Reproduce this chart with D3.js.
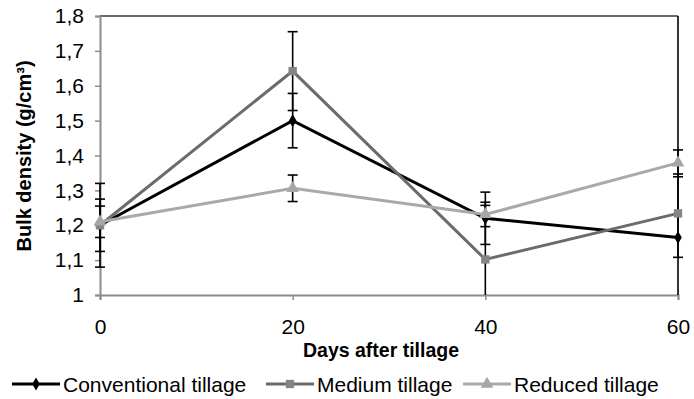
<!DOCTYPE html>
<html>
<head>
<meta charset="utf-8">
<script src="https://cdn.jsdelivr.net/npm/d3@7"></script>
<style>
  body { margin: 0; background: #fff; }
  text { font-family: "Liberation Sans", Arial, sans-serif; }
</style>
</head>
<body>
<div id="chart"></div>
<script>
// data
var days = [0, 20, 40, 60];
var conventional = [1.20, 1.50, 1.22, 1.165];
var medium = [1.20, 1.642, 1.102, 1.234];
var reduced = [1.21, 1.306, 1.231, 1.379];

// error bar sizes (plus / minus)
var convPlus = [0.12, 0.078, 0.075, 0.70];
var convMinus = [0.12, 0.078, 0.075, 0.70];
var medPlus = [0.075, 0.113, 0.155, 0.113];
var medMinus = [0.075, 0.113, 0.16, 0.126];
var redPlus = [0.045, 0.038, 0.035, 0.037];
var redMinus = [0.045, 0.038, 0.035, 0.04];

var yTicks = [1, 1.1, 1.2, 1.3, 1.4, 1.5, 1.6, 1.7, 1.8];
var xTicks = [0, 20, 40, 60];

var seriesNames = ["Conventional tillage", "Medium tillage", "Reduced tillage"];

var W = 694, H = 399;
var margin = {top: 16, right: 16, bottom: 104, left: 100};

var svg = d3.select("#chart").append("svg")
    .attr("width", W)
    .attr("height", H);

var x = d3.scaleLinear().domain([0, 60]).range([margin.left, W - margin.right]);
var y = d3.scaleLinear().domain([1, 1.8]).range([H - margin.bottom, margin.top]);

var series = [
    {name: seriesNames[0], values: conventional, plus: convPlus, minus: convMinus,
     line: "#000000", fill: "#000000", symbol: d3.symbolDiamond, size: 50},
    {name: seriesNames[1], values: medium, plus: medPlus, minus: medMinus,
     line: "#6b6b6b", fill: "#858585", symbol: d3.symbolSquare, size: 70},
    {name: seriesNames[2], values: reduced, plus: redPlus, minus: redMinus,
     line: "#a9a9a9", fill: "#a6a6a6", symbol: d3.symbolTriangle, size: 70}
];

// top border
svg.append("line")
    .attr("x1", x(0)).attr("x2", x(60))
    .attr("y1", y(1.8)).attr("y2", y(1.8))
    .attr("stroke", "#6a6a6a").attr("stroke-width", 2);

// y axis
var yAxis = svg.append("g")
    .attr("transform", "translate(" + margin.left + ",0)")
    .call(d3.axisLeft(y).tickValues(yTicks).tickSize(5).tickPadding(11)
        .tickFormat(function (d) { return d3.format(".1f")(d).replace(".", ",").replace(",0", ""); }));
yAxis.select(".domain").attr("stroke", "#8c8c8c").attr("stroke-width", 2);
yAxis.selectAll(".tick line").attr("stroke", "#8c8c8c").attr("stroke-width", 1.5);
yAxis.selectAll("text").attr("font-size", 21).attr("fill", "#000");

// x axis
var xAxis = svg.append("g")
    .attr("transform", "translate(0," + y(1) + ")")
    .call(d3.axisBottom(x).tickValues(xTicks).tickSize(5).tickPadding(19));
xAxis.select(".domain").attr("stroke", "#8c8c8c").attr("stroke-width", 2);
xAxis.selectAll(".tick line").attr("stroke", "#8c8c8c").attr("stroke-width", 1.5);
xAxis.selectAll("text").attr("font-size", 21).attr("fill", "#000");

// axis titles
svg.append("text")
    .attr("transform", "translate(31,156) rotate(-90)")
    .attr("text-anchor", "middle")
    .attr("font-size", 20).attr("font-weight", "bold")
    .text("Bulk density (g/cm³)");

svg.append("text")
    .attr("x", 381).attr("y", 357)
    .attr("text-anchor", "middle")
    .attr("font-size", 19.5).attr("font-weight", "bold")
    .text("Days after tillage");

// error bars
var capW = 5;
series.forEach(function (s) {
    var g = svg.append("g");
    s.values.forEach(function (v, i) {
        var hi = v + s.plus[i], lo = v - s.minus[i];
        var hiC = Math.min(hi, 1.8), loC = Math.max(lo, 1);
        var cx = x(days[i]);
        g.append("line")
            .attr("x1", cx).attr("x2", cx)
            .attr("y1", y(hiC)).attr("y2", y(loC))
            .attr("stroke", "#000").attr("stroke-width", 1.6);
        if (hi <= 1.8) {
            g.append("line")
                .attr("x1", cx - capW).attr("x2", cx + capW)
                .attr("y1", y(hi)).attr("y2", y(hi))
                .attr("stroke", "#000").attr("stroke-width", 1.6);
        }
        if (lo >= 1) {
            g.append("line")
                .attr("x1", cx - capW).attr("x2", cx + capW)
                .attr("y1", y(lo)).attr("y2", y(lo))
                .attr("stroke", "#000").attr("stroke-width", 1.6);
        }
    });
});

// lines and markers
var line = d3.line()
    .x(function (d, i) { return x(days[i]); })
    .y(function (d) { return y(d); });

series.forEach(function (s) {
    svg.append("path")
        .datum(s.values)
        .attr("d", line)
        .attr("fill", "none")
        .attr("stroke", s.line)
        .attr("stroke-width", 3);
    svg.append("g").selectAll("path")
        .data(s.values)
        .enter()
        .append("path")
        .attr("transform", function (d, i) { return "translate(" + x(days[i]) + "," + y(d) + ")"; })
        .attr("d", d3.symbol().type(s.symbol).size(s.size))
        .attr("fill", s.fill);
});

// legend
var legendX = [12, 266, 463];
var legend = svg.append("g");
series.forEach(function (s, i) {
    var lg = legend.append("g").attr("transform", "translate(" + legendX[i] + ",384)");
    lg.append("line")
        .attr("x1", 0).attr("x2", 48)
        .attr("stroke", s.line).attr("stroke-width", 3);
    lg.append("path")
        .attr("transform", "translate(24,0)")
        .attr("d", d3.symbol().type(s.symbol).size(s.size))
        .attr("fill", s.fill);
    lg.append("text")
        .attr("x", 51).attr("y", 7.5)
        .attr("font-size", 21)
        .text(s.name);
});
</script>
</body>
</html>
